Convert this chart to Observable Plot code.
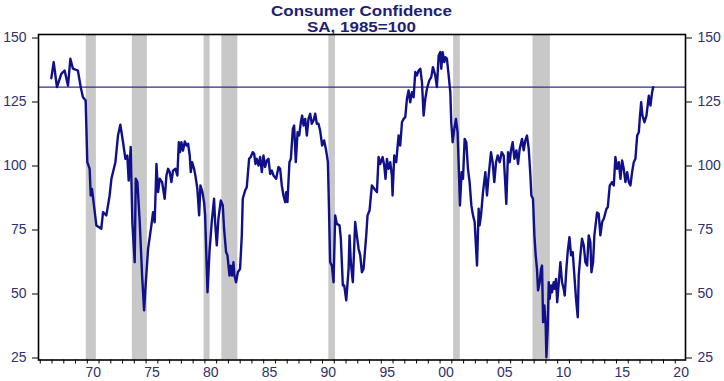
<!DOCTYPE html>
<html><head><meta charset="utf-8">
<script src="https://cdn.jsdelivr.net/npm/d3@7"></script>
<script src="https://cdn.jsdelivr.net/npm/@observablehq/plot@0.6"></script>
<style>
body{margin:0;background:#fff;}
#wrap{position:relative;width:724px;height:381px;overflow:hidden;background:#fff;}
.t{position:absolute;z-index:2;left:38px;width:647px;text-align:center;font-family:"Liberation Sans",Arial,sans-serif;color:#1e1e74;font-size:15px;font-weight:bold;line-height:17px;white-space:nowrap;transform:scaleX(1.13);transform-origin:center;}
#chart{position:absolute;z-index:1;left:0;top:30px;}
</style></head><body>
<div id="wrap">
<div id="chart"></div>
<div class="t" style="top:1.5px">Consumer Confidence</div>
<div class="t" style="top:18px">SA, 1985=100</div>
</div>
<script>
const years = [
1966.94,1967.14,1967.42,1967.79,1968.07,1968.36,1968.56,1968.78,1969.20,1969.44,1969.63,1969.86,
1970.00,1970.20,1970.29,1970.40,1970.77,1971.00,1971.19,1971.34,1971.62,1971.90,1972.05,1972.39,
1972.61,1972.81,1973.04,1973.24,1973.40,1973.52,1973.69,1973.83,1974.03,1974.12,1974.26,1974.46,
1974.66,1974.83,1974.94,1975.17,1975.45,1975.59,1975.73,1975.88,1976.02,1976.16,1976.36,1976.58,
1976.73,1976.87,1977.01,1977.15,1977.29,1977.49,1977.66,1977.78,1977.89,1978.00,1978.14,1978.29,
1978.43,1978.57,1978.71,1978.80,1978.91,1979.08,1979.19,1979.36,1979.51,1979.62,1979.79,1979.93,
1980.02,1980.22,1980.39,1980.58,1980.78,1980.87,1981.01,1981.15,1981.35,1981.52,1981.63,1981.80,
1981.92,1982.09,1982.20,1982.31,1982.43,1982.51,1982.65,1982.80,1982.99,1983.14,1983.22,1983.42,
1983.56,1983.76,1983.90,1984.07,1984.19,1984.30,1984.41,1984.56,1984.70,1984.84,1984.98,1985.12,
1985.27,1985.41,1985.55,1985.69,1985.83,1986.06,1986.26,1986.40,1986.54,1986.68,1986.83,1986.91,
1987.02,1987.19,1987.31,1987.48,1987.59,1987.73,1987.88,1988.02,1988.16,1988.27,1988.39,1988.53,
1988.67,1988.81,1988.95,1989.09,1989.24,1989.38,1989.52,1989.66,1989.80,1989.97,1990.14,1990.31,
1990.46,1990.54,1990.65,1990.80,1990.94,1991.08,1991.22,1991.45,1991.56,1991.73,1991.85,1992.02,
1992.22,1992.30,1992.41,1992.58,1992.78,1992.92,1993.07,1993.21,1993.35,1993.49,1993.72,1993.83,
1994.00,1994.20,1994.40,1994.63,1994.77,1994.91,1995.11,1995.25,1995.36,1995.48,1995.62,1995.76,
1995.90,1995.96,1996.10,1996.27,1996.47,1996.61,1996.76,1996.90,1997.04,1997.18,1997.32,1997.46,
1997.61,1997.75,1997.89,1998.03,1998.17,1998.32,1998.46,1998.60,1998.74,1998.88,1999.08,1999.25,
1999.39,1999.59,1999.73,1999.88,2000.02,2000.10,2000.22,2000.36,2000.44,2000.58,2000.73,2000.87,
2000.95,2001.07,2001.21,2001.35,2001.49,2001.61,2001.69,2001.83,2001.95,2002.09,2002.23,2002.37,
2002.51,2002.66,2002.80,2002.94,2003.14,2003.28,2003.36,2003.48,2003.65,2003.85,2003.99,2004.13,
2004.33,2004.47,2004.61,2004.76,2004.90,2005.07,2005.24,2005.41,2005.55,2005.63,2005.78,2005.92,
2006.03,2006.17,2006.32,2006.49,2006.63,2006.77,2006.97,2007.11,2007.25,2007.39,2007.54,2007.68,
2007.76,2007.90,2008.02,2008.13,2008.24,2008.33,2008.47,2008.59,2008.67,2008.76,2008.87,2008.98,
2009.04,2009.15,2009.24,2009.32,2009.44,2009.52,2009.66,2009.75,2009.86,2009.96,2010.14,2010.23,
2010.37,2010.51,2010.60,2010.74,2010.85,2011.00,2011.14,2011.28,2011.42,2011.56,2011.71,2011.79,
2011.93,2012.07,2012.22,2012.36,2012.50,2012.64,2012.78,2012.87,2013.01,2013.12,2013.35,2013.49,
2013.63,2013.78,2013.92,2014.15,2014.26,2014.43,2014.63,2014.77,2014.91,2015.05,2015.20,2015.34,
2015.48,2015.62,2015.76,2015.91,2016.05,2016.19,2016.33,2016.47,2016.61,2016.76,2016.90,2016.98,
2017.10,2017.21,2017.38,2017.55,2017.75,2017.89,2018.03,2018.12
];
const confidence = [
134.3,140.6,130.8,136.0,137.3,131.4,141.9,138.0,137.3,130.8,126.9,125.6,
101.5,98.9,88.5,91.0,76.8,76.1,75.5,82.0,80.7,88.5,95.0,101.5,
111.9,116.1,109.3,102.8,104.1,94.3,107.4,78.1,62.4,95.0,93.7,78.0,
57.2,43.6,52.0,67.7,76.8,82.0,78.0,100.8,89.8,95.0,93.7,87.2,
96.3,98.9,97.6,93.7,98.2,98.9,96.3,109.3,105.4,109.3,106.0,109.6,
108.0,108.7,104.1,97.6,101.5,98.9,96.3,91.1,80.7,92.4,89.8,85.9,
80.7,50.7,66.4,78.1,87.2,78.1,69.0,79.4,86.5,84.6,75.5,66.4,
65.1,57.2,61.1,57.2,62.4,57.2,54.6,58.5,59.8,72.9,87.2,90.4,
91.7,102.8,103.5,105.4,104.8,100.8,102.8,100.2,103.5,97.6,104.1,99.6,
102.2,102.8,96.9,98.2,96.3,95.0,99.6,98.9,92.4,88.5,85.9,89.8,
85.9,101.5,102.8,114.5,115.8,101.5,113.2,111.9,117.1,119.7,115.8,118.4,
111.9,118.4,120.4,116.5,117.8,120.4,116.5,116.5,113.9,108.0,110.0,106.1,
101.5,85.9,62.4,61.1,54.6,80.7,77.4,76.8,71.6,53.3,53.3,47.5,
59.8,72.9,62.4,54.6,78.1,72.9,67.7,65.1,58.5,59.8,72.9,80.7,
82.6,92.4,91.1,89.8,103.5,100.8,103.5,100.2,95.0,102.8,98.9,101.5,
96.3,88.5,104.1,101.5,111.9,108.0,117.1,118.4,119.1,126.2,129.5,124.9,
128.8,126.9,136.7,135.4,137.3,138.0,132.7,119.7,126.2,130.1,133.4,134.7,
138.6,135.4,130.8,143.2,144.5,138.0,144.5,140.6,142.5,141.9,135.4,128.8,
117.1,109.3,114.5,118.4,113.2,96.3,84.6,97.6,95.0,110.6,109.3,98.9,
93.7,84.6,80.7,78.1,61.1,83.3,76.8,80.7,89.8,97.6,88.5,96.3,
105.4,101.5,93.7,101.5,104.1,101.5,105.4,104.1,92.4,85.2,105.4,101.5,
106.1,109.3,102.8,106.1,100.8,106.7,110.6,106.1,110.0,111.9,106.7,96.3,
88.5,87.2,72.9,65.1,59.8,51.4,54.6,59.8,61.1,39.0,45.5,37.7,
25.3,36.4,54.6,48.1,53.3,50.7,54.6,52.0,55.9,46.8,57.2,62.4,
54.6,52.0,49.4,59.8,66.4,72.2,65.1,66.4,57.2,48.1,40.9,57.2,
65.1,71.6,68.9,62.4,61.1,72.9,70.3,58.5,62.4,72.9,81.9,81.3,
72.9,78.1,79.4,83.3,83.9,92.4,93.7,92.4,103.5,98.9,101.5,95.0,
102.2,98.9,93.7,97.6,93.7,92.4,97.6,101.5,102.8,111.9,113.2,118.4,
124.9,119.7,117.1,119.7,127.5,123.6,128.8,130.8
];
const recessionStart = [1969.91, 1973.83, 1979.93, 1981.44, 1990.54, 2001.15, 2007.90];
const recessionEnd   = [1970.77, 1975.11, 1980.44, 1982.80, 1991.10, 2001.72, 2009.38];
const referenceLevel = 130.8;
const yTicks = [25, 50, 75, 100, 125, 150];
const yearTickStart = 1966, yearTickEnd = 2020;
const labelYears = [1970, 1975, 1980, 1985, 1990, 1995, 2000, 2005, 2010, 2015, 2020];
const labelText  = ["70", "75", "80", "85", "90", "95", "00", "05", "10", "15", "20"];

const series = years.map((y, i) => ({year: y, value: confidence[i]}));
const recessions = recessionStart.map((s, i) => ({start: s, end: recessionEnd[i]}));
const yearTicks = d3.range(yearTickStart, yearTickEnd + 1);
const labelPos = labelYears.map(y => y + 0.5);
const labelMap = new Map(labelPos.map((p, i) => [p, labelText[i]]));

const ink = "#30306c";
const chart = Plot.plot({
  width: 724, height: 351,
  marginLeft: 38, marginRight: 39, marginTop: 4, marginBottom: 21.5,
  x: {domain: [1965.85, 2020.87]},
  y: {domain: [24.22, 151.37]},
  style: {fontFamily: '"Liberation Sans", Arial, sans-serif', fontSize: "14px", background: "transparent", color: ink, overflow: "visible"},
  marks: [
    Plot.rect(recessions, {x1: "start", x2: "end", fill: "#c8c8c8"}),
    Plot.ruleY([referenceLevel], {stroke: "#2e2e8c", strokeWidth: 1.1}),
    Plot.line(series, {x: "year", y: "value", stroke: "#10108a", strokeWidth: 2.4, strokeLinejoin: "round"}),
    Plot.frame({stroke: "black", strokeWidth: 1.6}),
    Plot.axisY(yTicks, {anchor: "left", tickSize: 6, tickPadding: 6, label: null, stroke: "black", fill: ink}),
    Plot.axisY(yTicks, {anchor: "right", tickSize: 6, tickPadding: 6, label: null, stroke: "black", fill: ink}),
    Plot.axisX(yearTicks, {anchor: "bottom", tickSize: 4, tickFormat: () => "", label: null, stroke: "black"}),
    Plot.axisX(labelPos, {anchor: "bottom", tickSize: 0, tickPadding: 7, tickFormat: d => labelMap.get(d), label: null, fill: ink})
  ]
});
document.getElementById("chart").appendChild(chart);
</script>
</body></html>
